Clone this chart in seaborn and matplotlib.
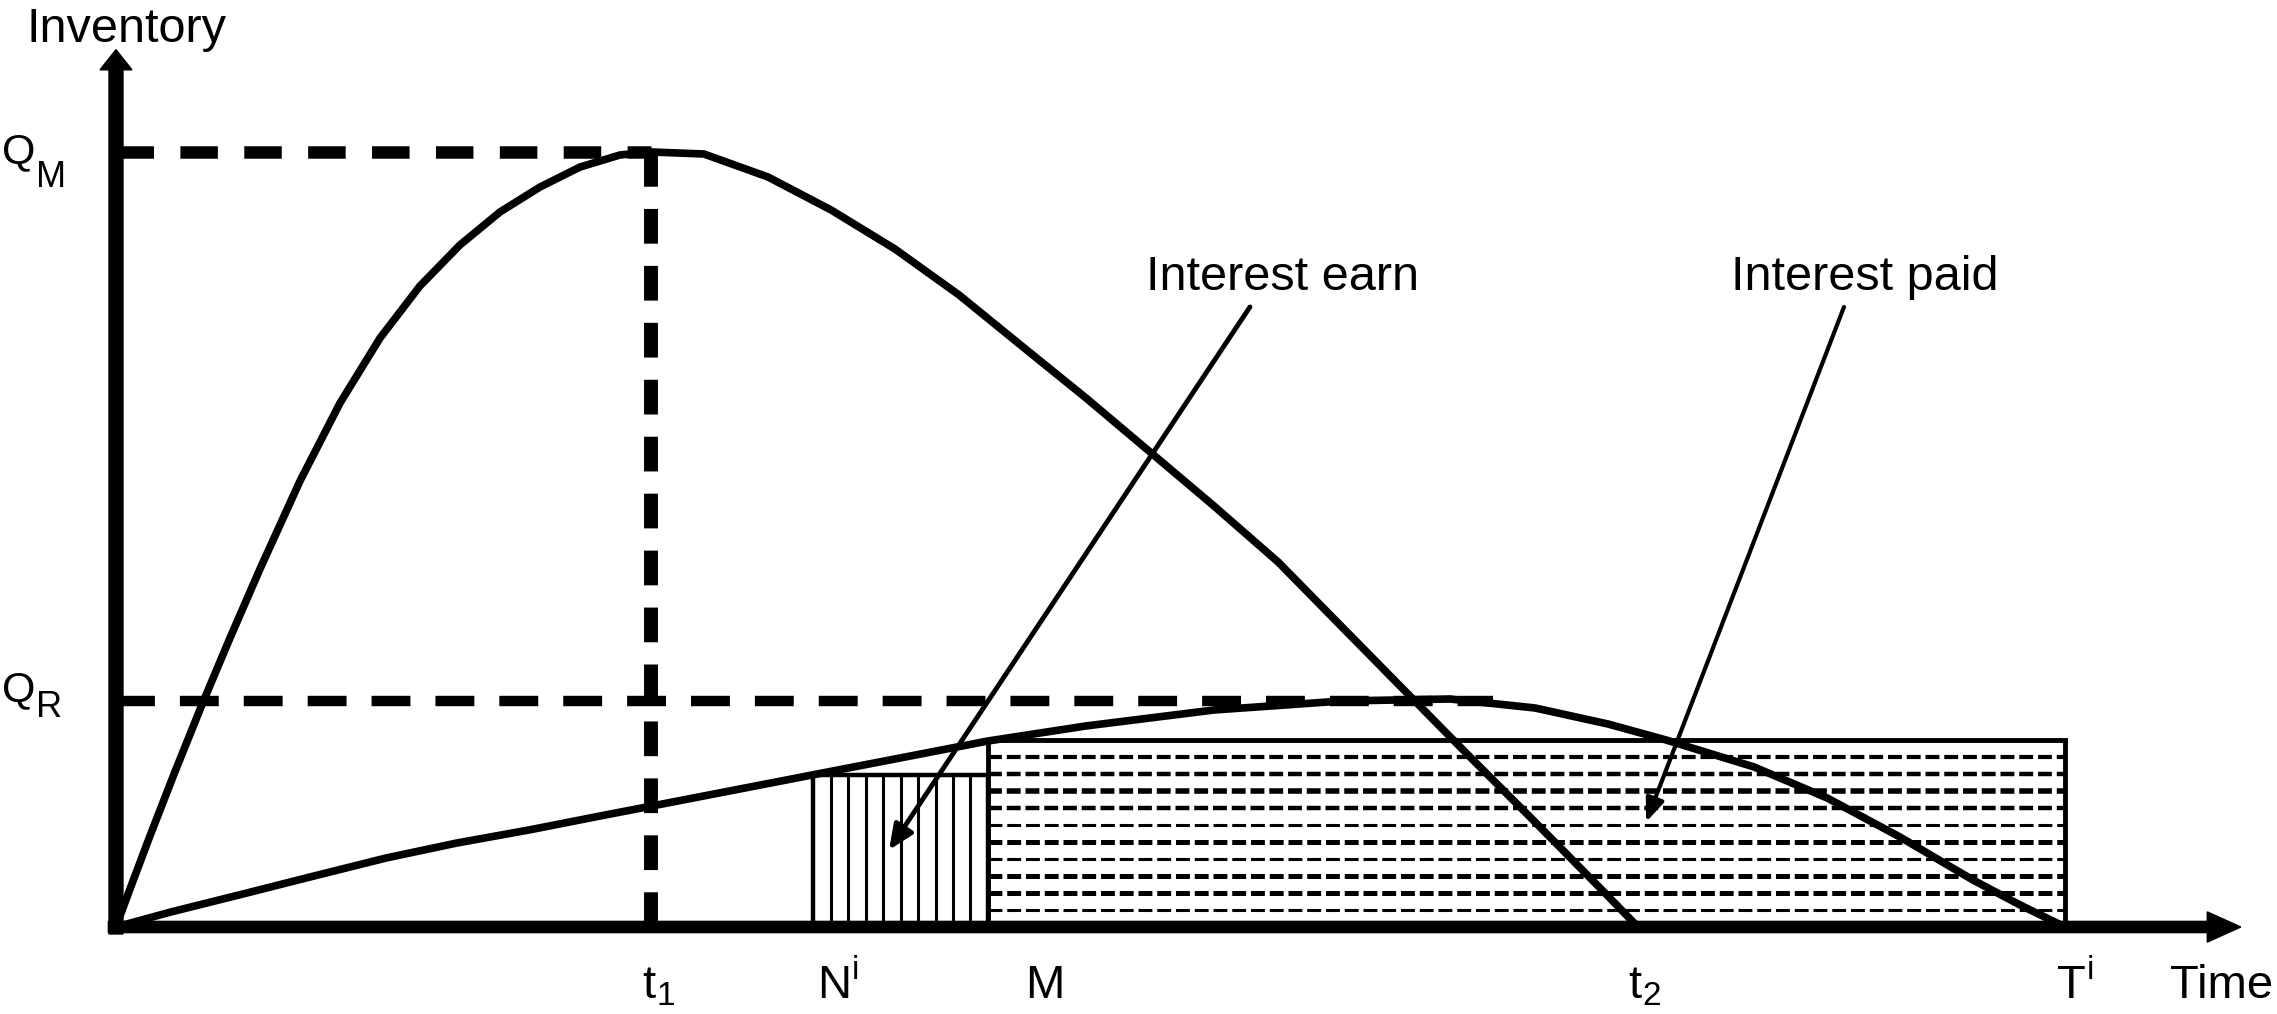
import numpy as np
import pandas as pd
import matplotlib
matplotlib.use("Agg")
import matplotlib.pyplot as plt
import seaborn as sns
from matplotlib.patches import Rectangle

# ---------------- data ----------------
big_time = [0, 0.092, 0.223, 0.388, 0.572, 0.749, 0.946, 1.209, 1.472, 1.735, 1.997,
            2.26, 2.523, 2.786, 3.049, 3.311, 3.515, 3.863, 4.284, 4.698, 5.118, 5.539,
            5.959, 6.373, 6.794, 7.214, 7.635, 8.055, 8.469, 8.89, 9.31, 9.731, 10.0]
big_inv = [0, 0.49, 1.174, 2.006, 2.903, 3.729, 4.619, 5.755, 6.761, 7.6, 8.271,
           8.8, 9.226, 9.548, 9.806, 9.961, 10.0, 9.974, 9.677, 9.252, 8.748, 8.155,
           7.484, 6.826, 6.129, 5.432, 4.71, 3.871, 3.045, 2.206, 1.381, 0.542, 0]
small_time = [0, 0.361, 0.834, 1.301, 1.774, 2.24, 2.714, 3.18, 3.555, 4.573, 5.729,
              6.373, 7.214, 8.055, 8.765, 9.323, 9.803, 10.184, 10.762, 11.242, 11.721,
              12.201, 12.51, 12.806]
small_inv = [0, 0.194, 0.426, 0.658, 0.89, 1.084, 1.252, 1.432, 1.574, 1.961, 2.4,
             2.594, 2.8, 2.916, 2.942, 2.826, 2.619, 2.413, 2.065, 1.665, 1.161,
             0.606, 0.284, 0]

t1, t2, Ti = 3.515, 10.0, 12.806
Ni, M = 4.58, 5.729
QM, QR = 10.0, 2.92
ni_height, m_height = 1.96, 2.41

# tick-like labels: (main text, small text, "sub" or "sup" or None)
x_tick_labels = [("t", "1", "sub"), ("N", "i", "sup"), ("M", "", None),
                 ("t", "2", "sub"), ("T", "i", "sup"), ("Time", "", None)]
y_tick_labels = [("Q", "M", "sub"), ("Q", "R", "sub")]
annot_labels = ["Interest earn", "Interest paid"]

# ---------------- style ----------------
sns.set_theme(style="white")
plt.rcParams["font.family"] = ["Liberation Sans", "DejaVu Sans"]
plt.rcParams["text.color"] = "black"
plt.rcParams["lines.scale_dashes"] = False

fig = plt.figure(figsize=(22.77, 10.14), dpi=100)
ax = fig.add_axes([0, 0, 1, 1])
ax.set_xlim(-0.762, 14.198)
ax.set_ylim(-1.1226, 11.961)

# ---------------- shaded rectangles ----------------
ax.add_patch(Rectangle((Ni, 0), M - Ni, ni_height, fill=False, ec="black", lw=3.2, zorder=2))
ax.vlines(np.linspace(Ni, M, 11)[1:-1], 0, ni_height, color="black", lw=2.2, zorder=2)

ax.add_patch(Rectangle((M, 0), Ti - M, m_height, fill=False, ec="black", lw=3.5, zorder=2))
hatch_y = np.linspace(0, m_height, 12)[1:-1]
hatch_w = [3.0, 3.2, 4.0, 3.2, 2.2, 3.6, 2.2, 3.6, 3.6, 2.2][::-1]
for yy, w in zip(hatch_y, hatch_w):
    ax.plot([M, Ti], [yy, yy], color="black", lw=w, dashes=(10, 3.5), zorder=2,
            dash_capstyle="butt")

# ---------------- reference dashed lines ----------------
ax.plot([0, t1], [QM, QM], color="black", lw=9, dashes=(27, 19), dash_capstyle="butt", zorder=3)
ax.plot([t1, t1], [QM, 0], color="black", lw=10, dashes=(25, 16), dash_capstyle="butt", zorder=3)
ax.plot([0, 9.05], [QR, QR], color="black", lw=7.5, dashes=(28, 18), dash_capstyle="butt", zorder=3)

# ---------------- inventory curves ----------------
df_big = pd.DataFrame({"time": big_time, "inventory": big_inv})
df_small = pd.DataFrame({"time": small_time, "inventory": small_inv})
sns.lineplot(data=df_big, x="time", y="inventory", ax=ax, color="black", lw=5.5,
             sort=False, estimator=None, zorder=4)
sns.lineplot(data=df_small, x="time", y="inventory", ax=ax, color="black", lw=5.5,
             sort=False, estimator=None, zorder=4)
ax.set_axis_off()

# ---------------- axes with arrow heads ----------------
ax.arrow(0, -0.09, 0, 11.41, width=0.092, head_width=0.21, head_length=0.26,
         length_includes_head=True, color="black", zorder=5)
ax.arrow(-0.05, 0, 14.01, 0, width=0.145, head_width=0.39, head_length=0.22,
         length_includes_head=True, color="black", zorder=5)

# ---------------- labels ----------------
renderer = fig.canvas.get_renderer()
px_per_y = fig.bbox.height / (ax.get_ylim()[1] - ax.get_ylim()[0])


def label(x, y, main, small, kind, fs, fs_small, shift_px):
    t = ax.text(x, y, main, fontsize=fs, ha="left", va="baseline", color="black")
    if not small:
        return
    bb = t.get_window_extent(renderer)
    xd = ax.transData.inverted().transform((bb.x1 + 1, 0))[0]
    dy = shift_px / px_per_y
    yy = y - dy if kind == "sub" else y + dy
    ax.text(xd, yy, small, fontsize=fs_small, ha="left", va="baseline", color="black")


ax.text(-0.585, 11.42, "Inventory", fontsize=35, ha="left", va="baseline", color="black")
label(-0.749, 9.86, *y_tick_labels[0], 31, 26, 24)
label(-0.749, 2.91, *y_tick_labels[1], 31, 26, 16)

x_label_pos = [3.456, 4.606, 5.972, 9.934, 12.75, 13.495]
sub_shift = {"sub": 7, "sup": 19, None: 0}
for xp, (main, small, kind) in zip(x_label_pos, x_tick_labels):
    label(xp, -0.92, main, small, kind, 34, 24, sub_shift[kind])

ax.text(6.77, 8.22, annot_labels[0], fontsize=35, ha="left", va="baseline", color="black")
ax.text(10.611, 8.22, annot_labels[1], fontsize=35, ha="left", va="baseline", color="black")

ax.annotate("", xy=(5.079, 0.994), xytext=(7.45, 8.0),
            arrowprops=dict(arrowstyle="-|>,head_length=0.5,head_width=0.22", lw=3.5,
                            color="black", shrinkA=0, shrinkB=0, mutation_scale=30), zorder=6)
ax.annotate("", xy=(10.053, 1.355), xytext=(11.353, 8.0),
            arrowprops=dict(arrowstyle="-|>,head_length=0.5,head_width=0.2", lw=3.0,
                            color="black", shrinkA=0, shrinkB=0, mutation_scale=28), zorder=6)

fig.savefig("out.png", dpi=100, facecolor="white")
